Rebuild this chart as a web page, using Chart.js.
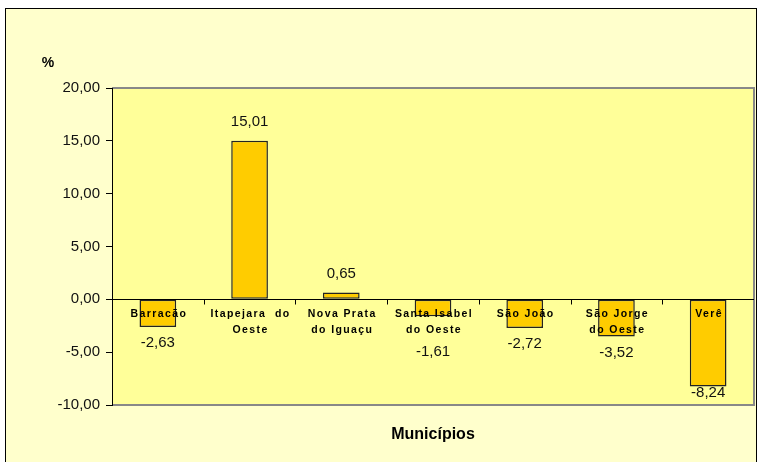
<!DOCTYPE html>
<html>
<head>
<meta charset="utf-8">
<script src="https://cdn.jsdelivr.net/npm/chart.js@4/dist/chart.umd.min.js"></script>
<style>
  html, body { margin: 0; padding: 0; background: #fff; }
  #wrap { position: relative; width: 758px; height: 462px; }
</style>
</head>
<body>
<div id="wrap"><canvas id="chart" width="758" height="462"></canvas></div>
<script>
const municipios = [['Barracão'], ['Itapejara  do', 'Oeste'], ['Nova Prata', 'do Iguaçu'], ['Santa Isabel', 'do Oeste'], ['São João'], ['São Jorge', 'do Oeste'], ['Verê']];
const variacao = [-2.63, 15.01, 0.65, -1.61, -2.72, -3.52, -8.24];
const yTicks = [-10, -5, 0, 5, 10, 15, 20];

const fmt = v => v.toFixed(2).replace('.', ',');

const decor = {
    id: 'decor',
    beforeDraw(chart) {
        const ctx = chart.ctx;
        const a = chart.chartArea;
        ctx.save();
        ctx.fillStyle = '#ffffff';
        ctx.fillRect(0, 0, chart.width, chart.height);
        ctx.fillStyle = '#FFFFCC';
        ctx.fillRect(5, 8, chart.width - 6, chart.height);
        ctx.strokeStyle = '#000';
        ctx.lineWidth = 1;
        ctx.strokeRect(5.5, 8.5, chart.width - 7, chart.height);
        ctx.fillStyle = '#FFFF99';
        ctx.fillRect(a.left, a.top, a.right - a.left, a.bottom - a.top);
        ctx.strokeStyle = '#888';
        ctx.lineWidth = 2;
        ctx.beginPath();
        ctx.moveTo(a.left, a.top);
        ctx.lineTo(a.right, a.top);
        ctx.lineTo(a.right, a.bottom);
        ctx.lineTo(a.left, a.bottom);
        ctx.stroke();
        ctx.restore();
    },
    afterDatasetsDraw(chart) {
        const ctx = chart.ctx;
        const a = chart.chartArea;
        const x = chart.scales.x;
        const y = chart.scales.y;
        const y0 = Math.round(y.getPixelForValue(0)) + 0.5;
        ctx.save();
        // zero line + category ticks
        ctx.strokeStyle = '#000';
        ctx.lineWidth = 1;
        ctx.beginPath();
        ctx.moveTo(a.left, y0);
        ctx.lineTo(a.right, y0);
        const w = (a.right - a.left) / municipios.length;
        for (let i = 1; i < municipios.length; i++) {
            const px = Math.round(a.left + i * w) + 0.5;
            ctx.moveTo(px, y0);
            ctx.lineTo(px, y0 + 5);
        }
        ctx.stroke();
        // category labels
        ctx.fillStyle = '#000';
        ctx.font = 'bold 10.5px "Liberation Sans", Arial, sans-serif';
        ctx.letterSpacing = '1.4px';
        ctx.textAlign = 'center';
        ctx.textBaseline = 'middle';
        municipios.forEach((lines, i) => {
            const cx = x.getPixelForValue(i);
            lines.forEach((t, j) => ctx.fillText(t, cx + 1, y0 + 15 + j * 16));
        });
        // value labels
        ctx.letterSpacing = '0px';
        ctx.fillStyle = '#111';
        ctx.font = '15px "Liberation Sans", Arial, sans-serif';
        const meta = chart.getDatasetMeta(0);
        variacao.forEach((v, i) => {
            const bar = meta.data[i];
            let ly;
            if (v >= 0) {
                ly = bar.y - 19;
            } else {
                const labelBottom = y0 + 15 + (municipios[i].length - 1) * 16 + 7;
                ly = Math.max(bar.y + 16, labelBottom + 14);
                ly = Math.min(ly, a.bottom - 12);
            }
            ctx.fillText(fmt(v), bar.x, ly);
        });
        // titles
        ctx.fillStyle = '#000';
        ctx.font = 'bold 14px "Liberation Sans", Arial, sans-serif';
        ctx.fillText('%', 48, 63);
        ctx.font = 'bold 16px "Liberation Sans", Arial, sans-serif';
        ctx.fillText('Municípios', (a.left + a.right) / 2, 435);
        ctx.restore();
    }
};

const ctx = document.getElementById('chart').getContext('2d');
const chart = new Chart(ctx, {
    type: 'bar',
    data: {
        labels: municipios,
        datasets: [{
            data: variacao,
            backgroundColor: '#FFCC00',
            borderColor: '#222',
            borderWidth: 1.5,
            borderSkipped: false,
            barPercentage: 0.4,
            categoryPercentage: 1
        }]
    },
    options: {
        responsive: false,
        animation: false,
        layout: { padding: { top: 88, bottom: 57, right: 4, left: 0 } },
        plugins: { legend: { display: false }, tooltip: { enabled: false } },
        scales: {
            x: { display: false },
            y: {
                min: -10,
                max: 20,
                afterFit(scale) { scale.width = 112; },
                afterBuildTicks(scale) { scale.ticks = yTicks.map(v => ({ value: v })); },
                ticks: {
                    padding: 6,
                    color: '#111',
                    font: { family: '"Liberation Sans", Arial, sans-serif', size: 15 },
                    callback: v => fmt(v)
                },
                grid: { drawOnChartArea: false, tickLength: 6, color: '#000' },
                border: { color: '#000', width: 1 }
            }
        }
    },
    plugins: [decor]
});
</script>
</body>
</html>
